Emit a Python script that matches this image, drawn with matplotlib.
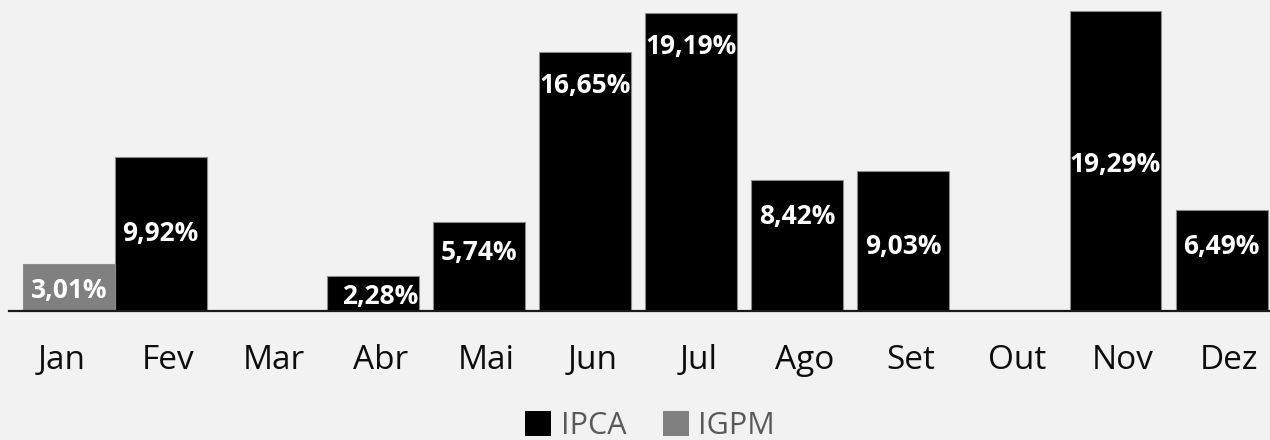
import numpy as np
from matplotlib import pyplot as plt
from matplotlib.patches import Patch

months = ["Jan", "Fev", "Mar", "Abr", "Mai", "Jun", "Jul", "Ago", "Set", "Out", "Nov", "Dez"]
ipca = [np.nan, 9.92, np.nan, 2.28, 5.74, 16.65, 19.19, 8.42, 9.03, np.nan, 19.29, 6.49]
igpm = [3.01, np.nan, np.nan, np.nan, np.nan, np.nan, np.nan, np.nan, np.nan, np.nan, np.nan, np.nan]

# label height as fraction of bar (mimics the original manual placement)
ipca_lab_frac = [0, 0.50, 0, 0.42, 0.65, 0.87, 0.885, 0.725, 0.46, 0, 0.487, 0.64]
igpm_lab_frac = [0.43] + [0] * 11

plt.rcParams['font.family'] = ['Open Sans', 'DejaVu Sans']
bg = '#f2f2f2'

fig = plt.figure(figsize=(12.7, 4.4), dpi=100, facecolor=bg)
ax = fig.add_axes([8.9 / 1270, 129 / 440, 12 * 106.1 / 1270, 306 / 440])
ax.set_facecolor(bg)

x = np.arange(len(months))
w = 0.866
off = 0.07
b1 = ax.bar(x - off, ipca, w, color='black', edgecolor='#8c8c8c', linewidth=0.8, label='IPCA', zorder=2)
b2 = ax.bar(x + off, igpm, w, color='#808080', edgecolor='#8c8c8c', linewidth=0.8, label='IGPM', zorder=3)

def fmt(v):
    return ("%.2f%%" % v).replace(".", ",")

for i, v in enumerate(ipca):
    if np.isnan(v):
        continue
    dx = 0.07 if months[i] == "Abr" else 0
    ax.text(x[i] - off + dx, v * ipca_lab_frac[i], fmt(v), ha='center', va='center',
            color='white', fontsize=19, fontweight='bold', zorder=4)
for i, v in enumerate(igpm):
    if np.isnan(v):
        continue
    ax.text(x[i] + off, v * igpm_lab_frac[i], fmt(v), ha='center', va='center',
            color='white', fontsize=19, fontweight='bold', zorder=4)

ax.set_xlim(-0.5, len(months) - 0.5)
ax.set_ylim(0, 19.68)
ax.set_xticks(x)
ax.set_xticklabels(months, fontsize=24, color='#0d0d0d')
ax.tick_params(axis='x', length=0, pad=24)
ax.set_yticks([])
for s in ['top', 'right', 'left']:
    ax.spines[s].set_visible(False)
ax.spines['bottom'].set_color('#1a1a1a')
ax.spines['bottom'].set_linewidth(1.6)
ax.spines['bottom'].set_zorder(5)

handles = [Patch(facecolor='black', label='IPCA'), Patch(facecolor='#808080', label='IGPM')]
leg = fig.legend(handles=handles, loc='center', bbox_to_anchor=(650 / 1270, 1 - 426 / 440),
                 ncol=2, frameon=False, fontsize=22, handlelength=0.85, handleheight=0.85,
                 handletextpad=0.3, columnspacing=1.2, borderpad=0)
for t in leg.get_texts():
    t.set_color('#595959')

fig.savefig('out.png', dpi=100, facecolor=bg)
